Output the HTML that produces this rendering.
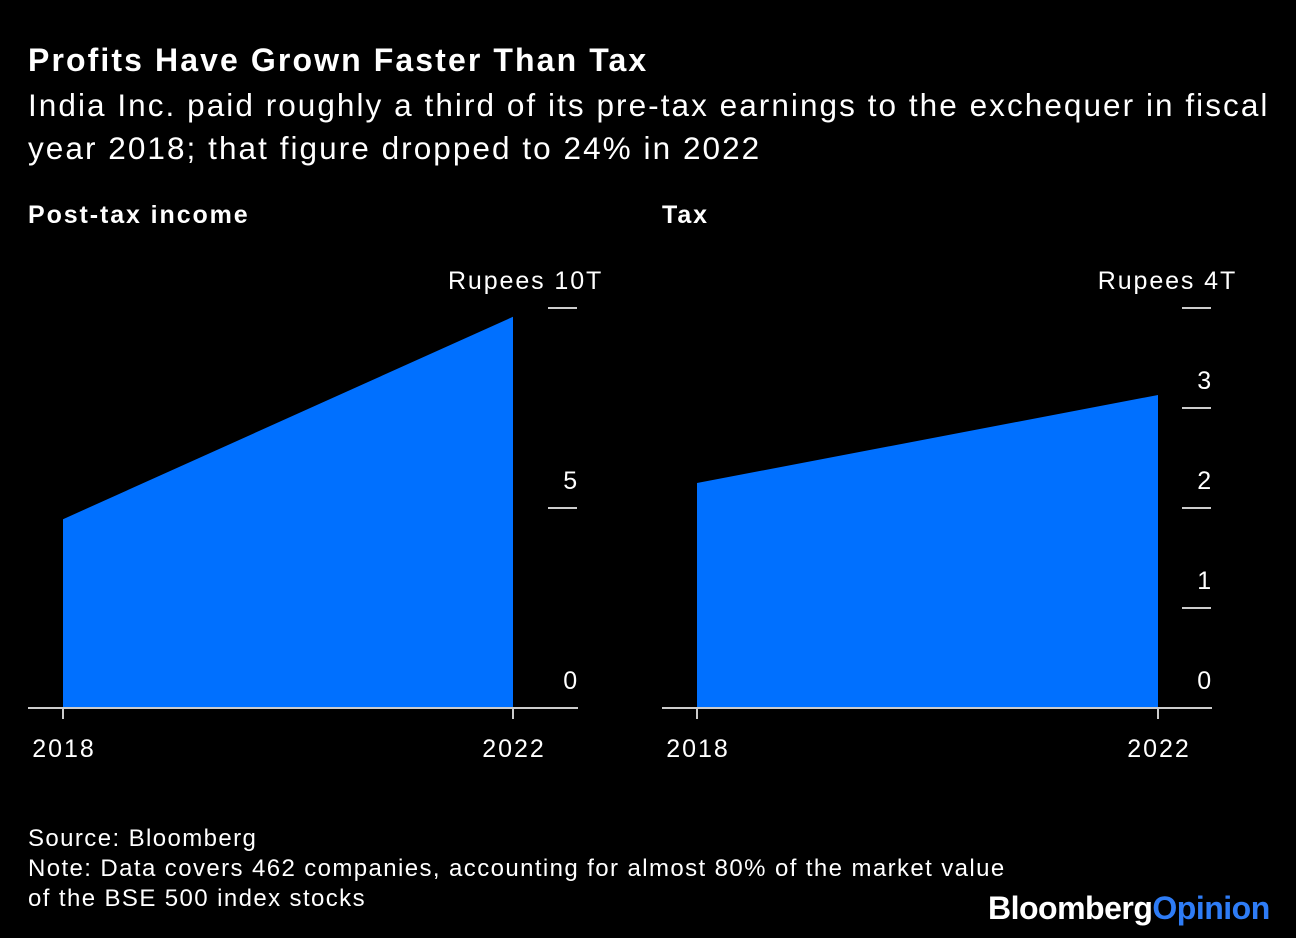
<!DOCTYPE html>
<html><head><meta charset="utf-8"><style>
body{margin:0;background:#000;width:1296px;height:938px;overflow:hidden;font-family:"Liberation Sans",Arial,sans-serif;color:#fff}
.t{position:absolute;left:28px;white-space:nowrap}
</style></head><body>
<div class="t" style="top:42px;font-size:32px;font-weight:bold;letter-spacing:2.1px">Profits Have Grown Faster Than Tax</div>
<div class="t" style="top:84px;font-size:31.5px;line-height:43px;letter-spacing:2.05px">India Inc. paid roughly a third of its pre-tax earnings to the exchequer in fiscal<br>year 2018; that figure dropped to 24% in 2022</div>
<div class="t" style="top:824px;font-size:24px;line-height:30px;letter-spacing:1.4px">Source: Bloomberg<br>Note: Data covers 462 companies, accounting for almost 80% of the market value<br>of the BSE 500 index stocks</div>
<div style="position:absolute;left:988px;top:890px;font-size:32px;font-weight:bold;letter-spacing:-0.5px">Bloomberg<span style="color:#2e7cf6">Opinion</span></div>
<svg id="c" width="1296" height="938" style="position:absolute;left:0;top:0"></svg>
<script>
const years=["2018","2022"];
const postTax=[4.72,9.78];
const tax=[2.25,3.13];
const postTicks=[0,5,10];
const taxTicks=[0,1,2,3,4];
const NS="http://www.w3.org/2000/svg";
const svg=document.getElementById('c');
function mk(t,a){const e=document.createElementNS(NS,t);for(const k in a)e.setAttribute(k,a[k]);svg.appendChild(e);return e;}
function panel(name,title,vals,ticks,max,x0,x1,xL,xR,unit){
  const y0=708,yTop=308;
  const y=v=>y0-(v/max)*(y0-yTop);
  const x=i=>x0+i*(x1-x0)/(vals.length-1);
  const tt=mk('text',{x:xL,y:223,fill:'#fff','font-size':25,'font-weight':'bold','font-family':'Liberation Sans','letter-spacing':1.9});tt.textContent=title;
  
  
  let d='M'+x(0)+','+y0;vals.forEach((v,i)=>d+=' L'+x(i)+','+y(v));d+=' L'+x(vals.length-1)+','+y0+'Z';
  const a=mk('path',{d:d,fill:'#0070ff'});
  
  
  ticks.forEach(t=>{
    const ty=y(t);
    const l=mk('line',{x1:xR-30,x2:xR-1,y1:ty,y2:ty,stroke:'#ccc','stroke-width':2});
    
    
    const off=t===max?8:1;
    const lb=mk('text',{x:xR+off,y:ty-19,fill:'#fff','font-size':25,'text-anchor':'end','font-family':'Liberation Sans','letter-spacing':1.9});
    lb.textContent=(t===max?unit:'')+t;
    
    
    if(t===max){
      const u=mk('text',{x:xR+off,y:ty-19,fill:'#fff','font-size':25,'font-family':'Liberation Sans'});
      u.textContent='T';
      
      
    }
  });
  const b=mk('line',{x1:xL,x2:xR,y1:y0,y2:y0,stroke:'#ccc','stroke-width':2});
  
  
  years.forEach((yr,i)=>{
    const tk=mk('line',{x1:x(i),x2:x(i),y1:y0,y2:y0+11,stroke:'#ccc','stroke-width':2});
    
    
    const lb=mk('text',{x:x(i)+1,y:757,fill:'#fff','font-size':25,'text-anchor':'middle','font-family':'Liberation Sans','letter-spacing':2});lb.textContent=yr;
    
    
  });
}
panel('post-tax','Post-tax income',postTax,postTicks,10,63,513,28,578,'Rupees ');
panel('tax','Tax',tax,taxTicks,4,697,1158,662,1212,'Rupees ');
</script>
</body></html>
